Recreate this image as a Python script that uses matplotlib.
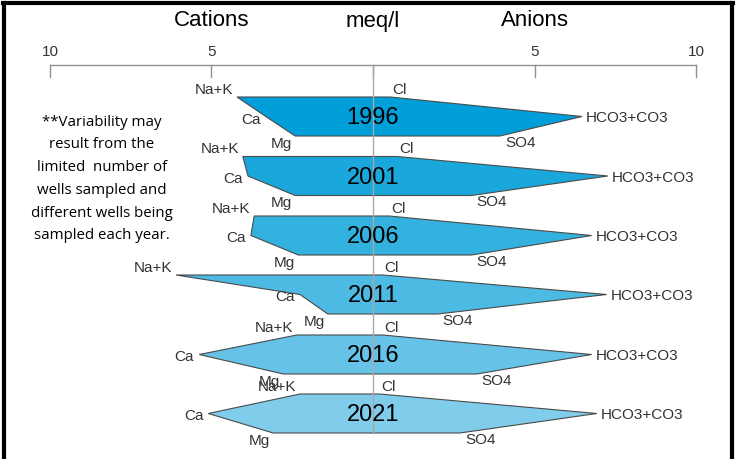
import numpy as np
import matplotlib
matplotlib.use('Agg')
import matplotlib.pyplot as plt
from matplotlib.patches import Polygon

# stiff diagram values (meq/l)
years = ['1996', '2001', '2006', '2011', '2016', '2021']
na_k = [4.21, 4.03, 3.68, 6.10, 2.36, 2.26]
ca = [3.32, 3.87, 3.78, 2.26, 5.38, 5.10]
mg = [2.41, 2.41, 2.31, 1.40, 2.78, 3.09]
cl = [0.53, 0.75, 0.50, 0.30, 0.30, 0.20]
hco3 = [6.47, 7.27, 6.77, 7.23, 6.77, 6.93]
so4 = [3.93, 3.05, 3.05, 2.00, 3.21, 2.69]
ticks = [-10, -5, 0, 5, 10]
tick_labels = ['10', '5', '', '5', '10']
colors = ['#009fd9', '#1aa8dc', '#33b1df', '#4cbae3', '#66c3e7', '#80cdeb']

note = ('**Variability may\nresult from the\nlimited  number of\n'
        'wells sampled and\ndifferent wells being\nsampled each year.')

plt.rcParams['font.family'] = ['Liberation Sans', 'DejaVu Sans']

fig = plt.figure(figsize=(7.36, 4.6), dpi=100)
ax = fig.add_axes([0, 0, 1, 1])
ppu = 32.3  # pixels per meq/l
ax.set_xlim(-10 - 50 / ppu, 10 + 40 / ppu)
ax.set_ylim(460, 0)
ax.axis('off')

# row layout (pixel rows)
centers = [117.5, 177, 236.5, 295.5, 355.5, 414.5]
half = 19.5
axis_y = 66
lab_col = '#333333'

# top scale
ax.plot([-10, 10], [axis_y, axis_y], color='#909090', lw=1)
for t, lab in zip(ticks, tick_labels):
    ax.plot([t, t], [axis_y, axis_y + 12], color='#909090', lw=1)
    if lab:
        ax.text(t, 52, lab, ha='center', va='center', fontsize=11, color=lab_col)
ax.text(-5, 21, 'Cations', ha='center', va='center', fontsize=16)
ax.text(0, 21, 'meq/l', ha='center', va='center', fontsize=16)
ax.text(5, 21, 'Anions', ha='center', va='center', fontsize=16)

# center line
ax.plot([0, 0], [axis_y, centers[-1] + half], color='#a8a8a8', lw=1, zorder=3)

for i, yr in enumerate(years):
    yc = centers[i]
    top, bot = yc - half, yc + half
    pts = [(-na_k[i], top), (cl[i], top), (hco3[i], yc), (so4[i], bot),
           (-mg[i], bot), (-ca[i], yc)]
    poly = Polygon(pts, closed=True, facecolor=colors[i], edgecolor='#4a4a4a',
                   lw=0.8, zorder=2)
    ax.add_patch(poly)
    ax.text(0, yc + 1, yr, ha='center', va='center', fontsize=17, color='black', zorder=5)

    kw = dict(textcoords='offset pixels', fontsize=11, color=lab_col, va='center', zorder=5)
    ax.annotate('Na+K', (-na_k[i], top), xytext=(-4, 8), ha='right', **kw)
    ax.annotate('Ca', (-ca[i], yc), xytext=(-5, -2), ha='right', **kw)
    ax.annotate('Mg', (-mg[i], bot), xytext=(-3, -7), ha='right', **kw)
    ax.annotate('Cl', (cl[i], top), xytext=(2, 8), ha='left', **kw)
    ax.annotate('HCO3+CO3', (hco3[i], yc), xytext=(4, -1), ha='left', **kw)
    ax.annotate('SO4', (so4[i], bot), xytext=(5, -6), ha='left', **kw)

ax.text(-8.4, 179, note, ha='center', va='center', fontsize=10.8,
        family=['Open Sans', 'DejaVu Sans'], linespacing=1.7, color='black')

# frame around the picture
ax.plot([0.006, 0.006], [0, 0.992], transform=ax.transAxes, color='black', lw=3, clip_on=False)
ax.plot([0.004, 0.996], [0.992, 0.992], transform=ax.transAxes, color='black', lw=3, clip_on=False)
ax.plot([0.994, 0.994], [0, 0.992], transform=ax.transAxes, color='black', lw=3, clip_on=False)

plt.savefig('out.png', dpi=100)
